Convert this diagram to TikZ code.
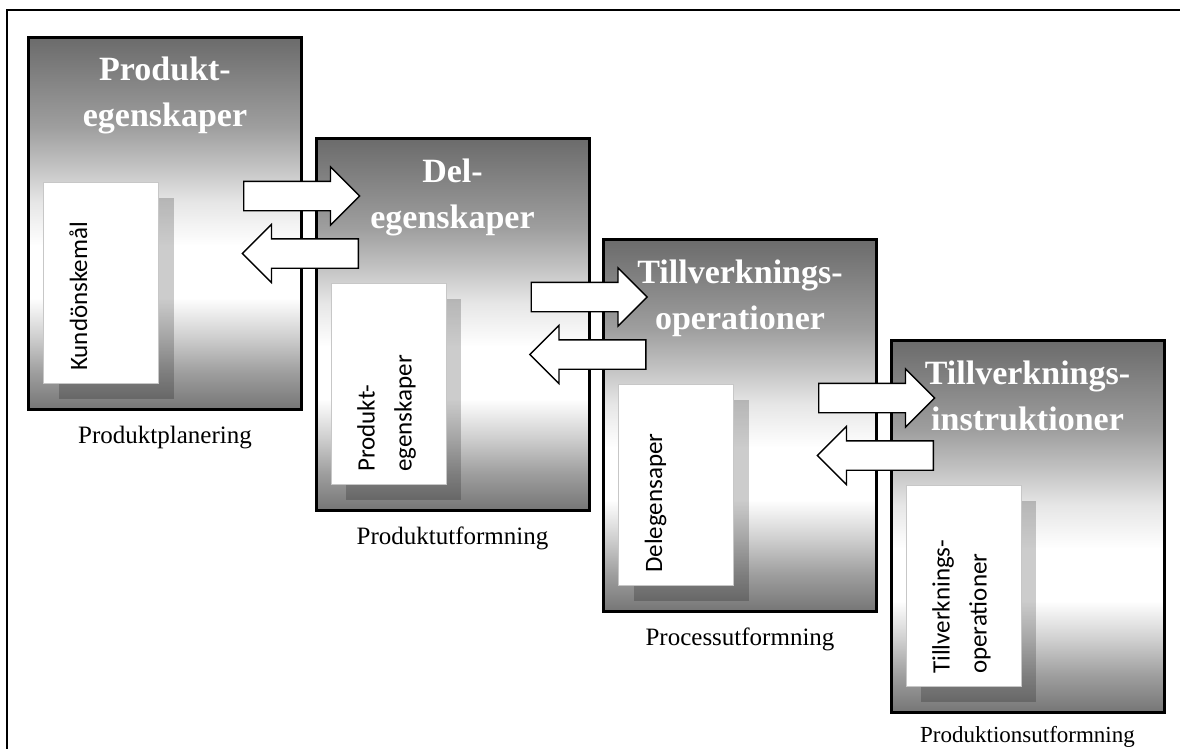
\documentclass[tikz,border=0pt]{standalone}
\usepackage{fontspec}
\setmainfont{Liberation Serif}
\newfontfamily\notefont{Carlito}
\usetikzlibrary{shapes.arrows,shadows}

% dark top, white band below the middle, dark again at the bottom
\pgfdeclareverticalshading{stageshade}{100bp}{%
  color(0bp)=(black!54); color(25bp)=(black!54); color(30bp)=(black!38);
  color(35bp)=(black!18); color(40bp)=(white); color(47bp)=(white);
  color(53bp)=(black!10); color(57bp)=(black!22); color(63bp)=(black!38);
  color(75bp)=(black!58); color(100bp)=(black!58)}

\tikzset{
  stagebox/.style={draw=black, line width=3pt, shade, shading=stageshade,
    minimum width=273pt, minimum height=372pt, inner sep=0pt, outer sep=0pt,
    anchor=north west},
  notebox/.style={fill=white, draw=black!22, line width=1.2pt,
    minimum width=115pt, minimum height=201pt, inner sep=0pt, anchor=north west,
    drop shadow={shadow xshift=15pt, shadow yshift=-15pt, fill=black, opacity=0.2}},
  % multi-line nodes: the base anchor sits on the last line
  notetext/.style={rotate=90, anchor=base west, inner sep=0pt, align=left,
    font=\notefont\fontsize{25}{37}\selectfont},
  stagetitle/.style={anchor=base, inner sep=0pt, align=center, text=white,
    font=\bfseries\fontsize{34}{46}\selectfont},
  stagelabel/.style={anchor=base, inner sep=0pt, font=\fontsize{25}{30}\selectfont},
  blockarrow/.style={single arrow, draw=black, line width=1.3pt, fill=white,
    minimum height=116pt, inner xsep=0pt, inner ysep=14pt, anchor=tail,
    single arrow head extend=14.5pt, single arrow tip angle=90},
  backarrow/.style={blockarrow, shape border rotate=180}
}

\begin{document}
\begin{tikzpicture}[x=1pt, y=-1pt]
\useasboundingbox (0,0) rectangle (1180,749);
\fill[white] (0,0) rectangle (1180,749);

% figure frame (top and left edges)
\draw[line width=1.5pt] (7,749) |- (1180,10);

% stage 1
\node[stagebox] (b1) at (28.5,37.5) {};
\node[notebox] (n1) at (43,182) {};
\node[notetext] (t1) at (87,371) {Kundönskemål};
\node[stagetitle] (h1) at (165,127) {Produkt-\\egenskaper};
\node[stagelabel] (l1) at (165,443) {Produktplanering};

% stage 2
\node[stagebox] (b2) at (316,138.5) {};
\node[notebox] (n2) at (330.5,283) {};
\node[notetext] (t2) at (411.5,472) {Produkt-\\egenskaper};
\node[stagetitle] (h2) at (452.5,228) {Del-\\egenskaper};
\node[stagelabel] (l2) at (452.5,544) {Produktutformning};

% stage 3
\node[stagebox] (b3) at (603.5,239.5) {};
\node[notebox] (n3) at (618,384) {};
\node[notetext] (t3) at (662,573) {Delegensaper};
\node[stagetitle] (h3) at (740,329) {Tillverknings-\\operationer};
\node[stagelabel] (l3) at (740,645) {Processutformning};

% stage 4
\node[stagebox] (b4) at (891,340.5) {};
\node[notebox] (n4) at (905.5,485) {};
\node[notetext] (t4) at (986.5,674) {Tillverknings-\\operationer};
\node[stagetitle] (h4) at (1027.5,430) {Tillverknings-\\instruktioner};
\node[stagelabel, font=\fontsize{23}{28}\selectfont] (l4) at (1027.5,742) {Produktionsutformning};

% forward and feedback arrows between neighbouring stages
\node[blockarrow] (f1) at (243,196) {};
\node[backarrow]  (r1) at (359,253.5) {};
\node[blockarrow] (f2) at (530.5,297) {};
\node[backarrow]  (r2) at (646.5,354.5) {};
\node[blockarrow] (f3) at (818,398) {};
\node[backarrow]  (r3) at (934,455.5) {};
\end{tikzpicture}
\end{document}
